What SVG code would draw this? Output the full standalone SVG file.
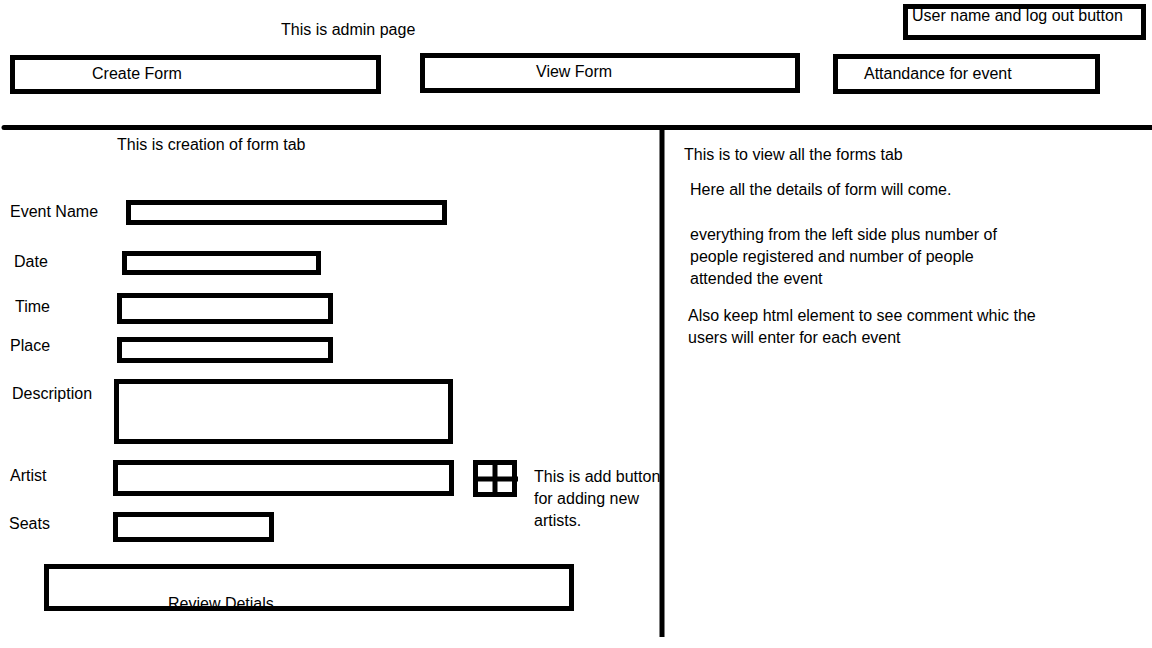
<svg xmlns="http://www.w3.org/2000/svg" width="1152" height="648" viewBox="0 0 1152 648">
  <style>
    text { font-family: "Liberation Sans", Arial, sans-serif; font-size: 16px; fill: #000; }
    .box { fill: none; stroke: #000; stroke-width: 5; }
    .line { stroke: #000; stroke-width: 5; fill: none; }
  </style>
  <defs>
    <clipPath id="leftPane">
      <rect x="0" y="130" width="660" height="520"/>
    </clipPath>
  </defs>
  <rect width="1152" height="648" fill="#fff"/>

  <g id="title">
    <text x="281" y="35">This is admin page</text>
  </g>
  <g id="user-logout">
    <rect class="box" x="905.5" y="6.5" width="238" height="31"/>
    <text x="912" y="21">User name and log out button</text>
  </g>
  <g id="tab-create-form">
    <rect class="box" x="12.5" y="57.5" width="366" height="34"/>
    <text x="92" y="79">Create Form</text>
  </g>
  <g id="tab-view-form">
    <rect class="box" x="422.5" y="55.5" width="375" height="35"/>
    <text x="536" y="77">View Form</text>
  </g>
  <g id="tab-attendance">
    <rect class="box" x="835.5" y="56.5" width="262" height="35"/>
    <text x="864" y="79">Attandance for event</text>
  </g>

  <g id="create-heading">
    <text x="117" y="150">This is creation of form tab</text>
  </g>
  <g id="field-event-name">
    <text x="10" y="217">Event Name</text>
    <rect class="box" x="128.5" y="202.5" width="316" height="20"/>
  </g>
  <g id="field-date">
    <text x="14" y="267">Date</text>
    <rect class="box" x="124.5" y="253.5" width="194" height="19"/>
  </g>
  <g id="field-time">
    <text x="15" y="312">Time</text>
    <rect class="box" x="119.5" y="295.5" width="211" height="26"/>
  </g>
  <g id="field-place">
    <text x="10" y="351">Place</text>
    <rect class="box" x="119.5" y="339.5" width="211" height="21"/>
  </g>
  <g id="field-description">
    <text x="12" y="399">Description</text>
    <rect class="box" x="116.5" y="381.5" width="334" height="60"/>
  </g>
  <g id="field-artist">
    <text x="10" y="481">Artist</text>
    <rect class="box" x="115.5" y="462.5" width="336" height="31"/>
  </g>
  <g id="add-artist-button">
    <rect class="box" x="475.5" y="462.5" width="39" height="32"/>
    <line class="line" x1="495" y1="462" x2="495" y2="495"/>
    <line class="line" x1="475" y1="479" x2="518" y2="479"/>
  </g>
  <g id="add-button-note" clip-path="url(#leftPane)">
    <text x="534" y="482">This is add button</text>
    <text x="534" y="504">for adding new</text>
    <text x="534" y="526">artists.</text>
  </g>
  <g id="field-seats">
    <text x="9" y="529">Seats</text>
    <rect class="box" x="115.5" y="514.5" width="156" height="25"/>
  </g>
  <g id="review-details">
    <text x="168" y="609">Review Detials</text>
    <rect class="box" x="46.5" y="566.5" width="525" height="42"/>
  </g>

  <g id="view-pane">
    <text x="684" y="160">This is to view all the forms tab</text>
    <text x="690" y="195">Here all the details of form will come.</text>
    <text x="690" y="240">everything from the left side plus number of</text>
    <text x="690" y="262">people registered and number of people</text>
    <text x="690" y="284">attended the event</text>
    <text x="688" y="321">Also keep html element to see comment whic the</text>
    <text x="688" y="343">users will enter for each event</text>
  </g>

  <g id="connectors">
    <line class="line" x1="4" y1="127.5" x2="1152" y2="127.5" stroke-linecap="round"/>
    <line class="line" x1="662" y1="127" x2="662" y2="637"/>
  </g>
</svg>
